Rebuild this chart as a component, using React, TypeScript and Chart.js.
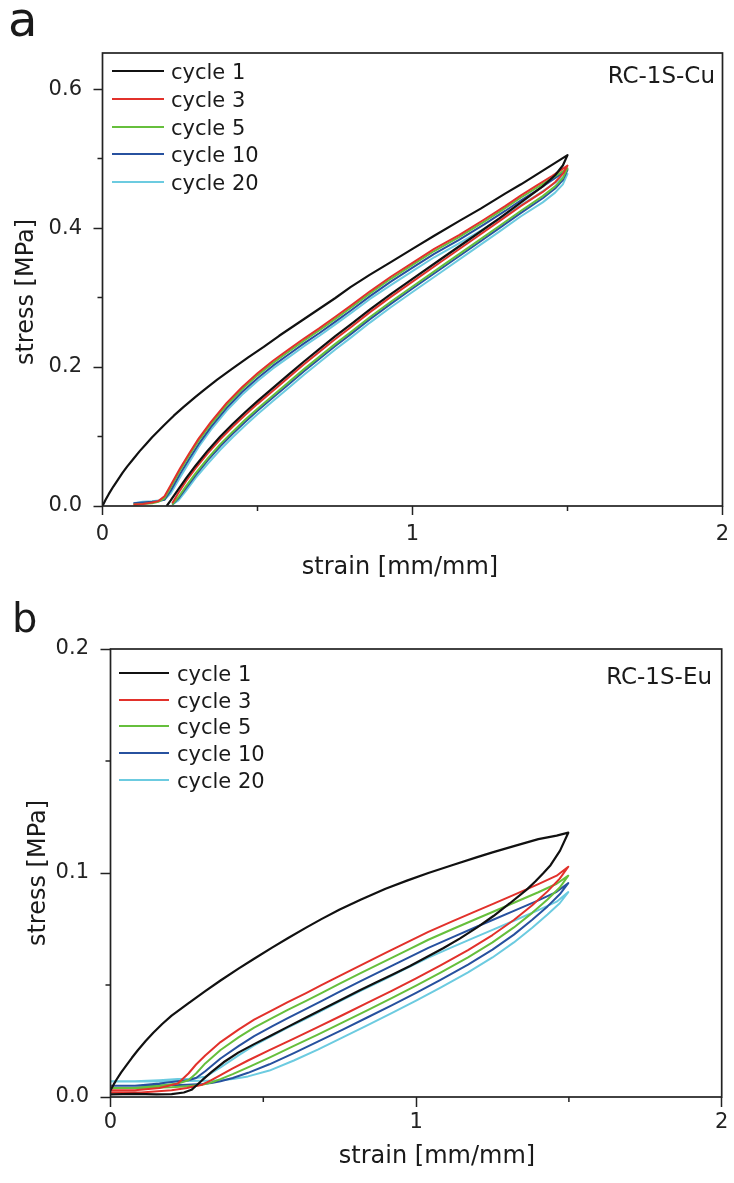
import React, { useEffect, useRef } from 'react';
import { Chart, registerables } from 'chart.js';

Chart.register(...registerables);

const SANS = '"DejaVu Sans", "Liberation Sans", sans-serif';

// ---------- shared labels ----------
const CYCLE_LABELS = ['cycle 1', 'cycle 3', 'cycle 5', 'cycle 10', 'cycle 20'];
const CYCLE_COLORS = ['#111111', '#e2312b', '#66bf3c', '#27519f', '#6ccbe0'];

// ---------- panel a (RC-1S-Cu) ----------
const A_X_TICKS = [0, 1, 2];
const A_X_MINOR = [0.5, 1.5];
const A_Y_TICKS = [0, 0.2, 0.4, 0.6];
const A_Y_MINOR = [0.1, 0.3, 0.5];

const A_C1_LOAD_STRAIN = [0, 0.01, 0.02, 0.035, 0.05, 0.065, 0.08, 0.1, 0.12, 0.14, 0.16, 0.18, 0.2, 0.23, 0.26, 0.3, 0.33, 0.37, 0.42, 0.47, 0.52, 0.57, 0.63, 0.69, 0.75, 0.8, 0.863, 0.93, 1.0, 1.07, 1.15, 1.22, 1.3, 1.35, 1.4, 1.45, 1.5];
const A_C1_LOAD_STRESS = [0, 0.009, 0.017, 0.028, 0.038, 0.048, 0.057, 0.068, 0.079, 0.089, 0.099, 0.108, 0.117, 0.13, 0.142, 0.157, 0.168, 0.182, 0.198, 0.214, 0.229, 0.245, 0.263, 0.281, 0.299, 0.315, 0.333, 0.351, 0.37, 0.389, 0.41, 0.428, 0.45, 0.463, 0.477, 0.491, 0.505];
const A_C1_UNLOAD_STRAIN = [1.485, 1.46, 1.42, 1.35, 1.28, 1.2, 1.1, 1.0, 0.93, 0.863, 0.8, 0.75, 0.7, 0.65, 0.6, 0.55, 0.5, 0.46, 0.42, 0.38, 0.34, 0.3, 0.27, 0.24, 0.22, 0.207];
const A_C1_UNLOAD_STRESS = [0.49, 0.476, 0.46, 0.437, 0.414, 0.389, 0.358, 0.327, 0.305, 0.283, 0.261, 0.244, 0.226, 0.208, 0.189, 0.17, 0.151, 0.135, 0.118, 0.1, 0.08, 0.058, 0.04, 0.021, 0.008, 0];

const A_LOAD_STRAIN = [0.1, 0.13, 0.16, 0.18, 0.2, 0.22, 0.25, 0.28, 0.31, 0.35, 0.4, 0.45, 0.5, 0.55, 0.6, 0.65, 0.7, 0.75, 0.8, 0.863, 0.93, 1.0, 1.07, 1.15, 1.23, 1.3, 1.35, 1.4, 1.45, 1.5];
const A_C3_LOAD = [0.002, 0.003, 0.005, 0.007, 0.014, 0.03, 0.054, 0.076, 0.097, 0.121, 0.148, 0.171, 0.191, 0.209, 0.225, 0.241, 0.256, 0.272, 0.288, 0.309, 0.33, 0.35, 0.37, 0.39, 0.412, 0.432, 0.447, 0.461, 0.475, 0.49];
const A_C5_LOAD = [0.002, 0.003, 0.004, 0.006, 0.011, 0.027, 0.051, 0.073, 0.094, 0.118, 0.145, 0.168, 0.188, 0.206, 0.222, 0.238, 0.253, 0.269, 0.285, 0.306, 0.327, 0.347, 0.367, 0.387, 0.409, 0.429, 0.444, 0.458, 0.472, 0.486];
const A_C10_LOAD = [0.004, 0.005, 0.006, 0.007, 0.009, 0.022, 0.046, 0.068, 0.089, 0.114, 0.141, 0.164, 0.184, 0.202, 0.218, 0.234, 0.249, 0.265, 0.281, 0.302, 0.323, 0.343, 0.363, 0.383, 0.405, 0.425, 0.44, 0.454, 0.469, 0.484];
const A_C20_LOAD = [0.004, 0.006, 0.007, 0.008, 0.009, 0.018, 0.041, 0.063, 0.085, 0.11, 0.137, 0.16, 0.18, 0.198, 0.214, 0.23, 0.245, 0.261, 0.277, 0.298, 0.318, 0.338, 0.358, 0.378, 0.399, 0.419, 0.433, 0.447, 0.462, 0.478];

const A_UNLOAD_STRAIN = [1.485, 1.46, 1.42, 1.35, 1.28, 1.2, 1.1, 1.0, 0.93, 0.863, 0.8, 0.75, 0.7, 0.65, 0.6, 0.55, 0.5, 0.46, 0.42, 0.38, 0.34, 0.3, 0.27, 0.245, 0.225];
const A_C3_UNLOAD = [0.478, 0.466, 0.452, 0.432, 0.41, 0.385, 0.354, 0.323, 0.301, 0.279, 0.257, 0.24, 0.222, 0.204, 0.185, 0.166, 0.147, 0.131, 0.114, 0.096, 0.076, 0.054, 0.036, 0.019, 0.004];
const A_C5_UNLOAD = [0.472, 0.46, 0.446, 0.425, 0.403, 0.378, 0.347, 0.316, 0.294, 0.272, 0.25, 0.233, 0.215, 0.197, 0.178, 0.159, 0.14, 0.124, 0.107, 0.089, 0.069, 0.047, 0.029, 0.013, 0.002];
const A_C10_UNLOAD = [0.469, 0.457, 0.443, 0.422, 0.4, 0.375, 0.344, 0.313, 0.291, 0.269, 0.247, 0.23, 0.212, 0.194, 0.175, 0.156, 0.137, 0.121, 0.104, 0.086, 0.066, 0.044, 0.026, 0.011, 0.002];
const A_C20_UNLOAD = [0.463, 0.451, 0.437, 0.417, 0.395, 0.37, 0.339, 0.308, 0.286, 0.264, 0.242, 0.225, 0.207, 0.189, 0.17, 0.151, 0.132, 0.116, 0.099, 0.081, 0.061, 0.04, 0.022, 0.008, 0.002];

// ---------- panel b (RC-1S-Eu) ----------
const B_X_TICKS = [0, 1, 2];
const B_X_MINOR = [0.5, 1.5];
const B_Y_TICKS = [0, 0.1, 0.2];
const B_Y_MINOR = [0.05, 0.15];

const B_C1_LOAD_STRAIN = [0, 0.01, 0.02, 0.035, 0.05, 0.07, 0.09, 0.115, 0.14, 0.17, 0.2, 0.25, 0.31, 0.36, 0.42, 0.47, 0.53, 0.58, 0.64, 0.69, 0.75, 0.82, 0.9, 0.97, 1.04, 1.12, 1.2, 1.25, 1.32, 1.4, 1.46, 1.498];
const B_C1_LOAD_STRESS = [0.003, 0.0055, 0.0078, 0.011, 0.0138, 0.0175, 0.021, 0.025, 0.0287, 0.0327, 0.0363, 0.0414, 0.0473, 0.052, 0.0574, 0.0617, 0.0668, 0.0709, 0.0756, 0.0794, 0.0837, 0.0882, 0.093, 0.0966, 0.1, 0.1036, 0.1071, 0.1092, 0.112, 0.1151, 0.1167, 0.118];
const B_C1_UNLOAD_STRAIN = [1.471, 1.44, 1.416, 1.39, 1.362, 1.307, 1.253, 1.2, 1.144, 1.09, 1.035, 0.98, 0.925, 0.87, 0.816, 0.745, 0.69, 0.64, 0.58, 0.527, 0.47, 0.418, 0.37, 0.331, 0.3, 0.28, 0.265, 0.24, 0.2, 0.15, 0.08, 0];
const B_C1_UNLOAD_STRESS = [0.11, 0.1035, 0.0999, 0.0962, 0.0926, 0.0865, 0.0808, 0.0757, 0.0708, 0.0665, 0.0625, 0.0585, 0.0548, 0.0512, 0.0477, 0.0427, 0.039, 0.0355, 0.0313, 0.0276, 0.0236, 0.0198, 0.0155, 0.0112, 0.0075, 0.005, 0.0032, 0.002, 0.0013, 0.0012, 0.0014, 0.0012];

const B_LOAD_STRAIN = [0, 0.08, 0.16, 0.22, 0.255, 0.28, 0.31, 0.36, 0.42, 0.47, 0.53, 0.58, 0.64, 0.69, 0.75, 0.82, 0.9, 0.97, 1.04, 1.12, 1.2, 1.25, 1.32, 1.4, 1.46, 1.498];
const B_C3_LOAD = [0.003, 0.003, 0.004, 0.006, 0.0105, 0.0145, 0.0185, 0.0245, 0.0302, 0.0345, 0.0388, 0.0424, 0.0464, 0.0499, 0.0541, 0.0589, 0.0643, 0.069, 0.0737, 0.0785, 0.0832, 0.0861, 0.0902, 0.095, 0.0988, 0.1028];
const B_C5_LOAD = [0.004, 0.004, 0.005, 0.006, 0.0075, 0.0105, 0.015, 0.021, 0.0267, 0.031, 0.0353, 0.0389, 0.0429, 0.0464, 0.0506, 0.0554, 0.0608, 0.0655, 0.0702, 0.075, 0.0797, 0.0826, 0.0867, 0.0914, 0.0952, 0.0988];
const B_C10_LOAD = [0.005, 0.005, 0.006, 0.007, 0.0075, 0.0085, 0.0115, 0.0172, 0.0228, 0.0272, 0.0316, 0.0352, 0.0393, 0.0428, 0.047, 0.0518, 0.0572, 0.0619, 0.0666, 0.0714, 0.0761, 0.079, 0.0831, 0.0878, 0.0916, 0.0955];
const B_C20_LOAD = [0.007, 0.007, 0.0075, 0.008, 0.008, 0.0085, 0.009, 0.0132, 0.0187, 0.023, 0.0274, 0.031, 0.035, 0.0385, 0.0427, 0.0475, 0.0528, 0.0575, 0.0622, 0.067, 0.0717, 0.0746, 0.0787, 0.0834, 0.0872, 0.0915];

const B_UNLOAD_STRAIN = [1.47, 1.43, 1.38, 1.32, 1.25, 1.17, 1.08, 1.0, 0.92, 0.84, 0.76, 0.68, 0.6, 0.52, 0.45, 0.4, 0.36, 0.33, 0.3, 0.25, 0.2, 0.1, 0];
const B_C3_UNLOAD = [0.0975, 0.0918, 0.0856, 0.079, 0.0723, 0.0656, 0.0588, 0.053, 0.0474, 0.042, 0.0366, 0.0313, 0.0261, 0.0209, 0.0163, 0.0128, 0.0098, 0.0075, 0.0055, 0.004, 0.003, 0.002, 0.002];
const B_C5_UNLOAD = [0.0935, 0.0882, 0.0822, 0.0757, 0.069, 0.0623, 0.0555, 0.0497, 0.0441, 0.0387, 0.0333, 0.028, 0.0228, 0.0176, 0.0132, 0.0102, 0.008, 0.0065, 0.0055, 0.0048, 0.0043, 0.004, 0.004];
const B_C10_UNLOAD = [0.0905, 0.0851, 0.0791, 0.0725, 0.0658, 0.0591, 0.0523, 0.0465, 0.0409, 0.0355, 0.0301, 0.0248, 0.0196, 0.0146, 0.0108, 0.0085, 0.007, 0.0062, 0.0058, 0.0055, 0.0052, 0.005, 0.005];
const B_C20_UNLOAD = [0.0865, 0.0815, 0.0756, 0.069, 0.0623, 0.0556, 0.0488, 0.043, 0.0374, 0.032, 0.0266, 0.0213, 0.0163, 0.0118, 0.0092, 0.008, 0.0075, 0.0073, 0.0072, 0.0071, 0.007, 0.0069, 0.0069];

// ---------- helpers ----------
type Pt = { x: number; y: number };
const pts = (xs: number[], ys: number[]): Pt[] => xs.map((x, i) => ({ x, y: ys[i] }));
const loop = (lx: number[], ly: number[], ux: number[], uy: number[]): Pt[] => [...pts(lx, ly), ...pts(ux, uy)];

const A_SERIES = [
  loop(A_C1_LOAD_STRAIN, A_C1_LOAD_STRESS, A_C1_UNLOAD_STRAIN, A_C1_UNLOAD_STRESS),
  loop(A_LOAD_STRAIN, A_C3_LOAD, A_UNLOAD_STRAIN, A_C3_UNLOAD),
  loop(A_LOAD_STRAIN, A_C5_LOAD, A_UNLOAD_STRAIN, A_C5_UNLOAD),
  loop(A_LOAD_STRAIN, A_C10_LOAD, A_UNLOAD_STRAIN, A_C10_UNLOAD),
  loop(A_LOAD_STRAIN, A_C20_LOAD, A_UNLOAD_STRAIN, A_C20_UNLOAD),
];
const B_SERIES = [
  loop(B_C1_LOAD_STRAIN, B_C1_LOAD_STRESS, B_C1_UNLOAD_STRAIN, B_C1_UNLOAD_STRESS),
  loop(B_LOAD_STRAIN, B_C3_LOAD, B_UNLOAD_STRAIN, B_C3_UNLOAD),
  loop(B_LOAD_STRAIN, B_C5_LOAD, B_UNLOAD_STRAIN, B_C5_UNLOAD),
  loop(B_LOAD_STRAIN, B_C10_LOAD, B_UNLOAD_STRAIN, B_C10_UNLOAD),
  loop(B_LOAD_STRAIN, B_C20_LOAD, B_UNLOAD_STRAIN, B_C20_UNLOAD),
];

// ---------- layout specs (positions only) ----------
const PANELS = [
  {
    key: 'a', top: 0, w: 734, h: 585,
    ca: { left: 102.5, right: 722.5, top: 53, bottom: 506 },
    yMax: 0.652, xTicks: A_X_TICKS, xMinor: A_X_MINOR, yTicks: A_Y_TICKS, yMinor: A_Y_MINOR,
    series: A_SERIES, tickLen: 9, xPad: 7,
    letter: { text: 'a', size: 48, x: 8, y: 36 },
    tag: { text: 'RC-1S-Cu', x: 715, y: 83 },
    legend: { x1: 112, x2: 164, tx: 171, rows: [71, 99, 127, 154, 182] },
    xTitle: { text: 'strain [mm/mm]', x: 400, y: 574 },
    yTitle: { text: 'stress [MPa]', x: 33, y: 292 },
  },
  {
    key: 'b', top: 585, w: 734, h: 598,
    ca: { left: 110.5, right: 721.7, top: 64, bottom: 512 },
    yMax: 0.2, xTicks: B_X_TICKS, xMinor: B_X_MINOR, yTicks: B_Y_TICKS, yMinor: B_Y_MINOR,
    series: B_SERIES, tickLen: 10, xPad: 3,
    letter: { text: 'b', size: 40, x: 12, y: 47 },
    tag: { text: 'RC-1S-Eu', x: 712, y: 99 },
    legend: { x1: 119, x2: 169, tx: 177, rows: [88, 115, 141, 168, 195] },
    xTitle: { text: 'strain [mm/mm]', x: 437, y: 578 },
    yTitle: { text: 'stress [MPa]', x: 45, y: 288 },
  },
];

type Spec = (typeof PANELS)[number];

function Panel({ spec }: { spec: Spec }) {
  const ref = useRef<HTMLCanvasElement>(null);

  useEffect(() => {
    const canvas = ref.current;
    if (!canvas) return;

    const decor = {
      id: 'decor' + spec.key,
      afterDraw(chart: any) {
        const { ctx, chartArea: ca } = chart;
        const xs = chart.scales.x;
        const ys = chart.scales.y;
        ctx.save();
        // frame
        ctx.strokeStyle = '#222';
        ctx.lineWidth = 1.7;
        ctx.strokeRect(ca.left, ca.top, ca.right - ca.left, ca.bottom - ca.top);
        // minor ticks
        ctx.lineWidth = 1.5;
        ctx.beginPath();
        spec.xMinor.forEach((v) => {
          const p = xs.getPixelForValue(v);
          ctx.moveTo(p, ca.bottom);
          ctx.lineTo(p, ca.bottom + 5);
        });
        spec.yMinor.forEach((v) => {
          const p = ys.getPixelForValue(v);
          ctx.moveTo(ca.left, p);
          ctx.lineTo(ca.left - 5, p);
        });
        ctx.stroke();
        // legend
        ctx.font = `21px ${SANS}`;
        ctx.textAlign = 'left';
        ctx.textBaseline = 'alphabetic';
        ctx.fillStyle = '#1a1a1a';
        chart.data.datasets.forEach((ds: any, i: number) => {
          const y = spec.legend.rows[i];
          ctx.strokeStyle = ds.borderColor;
          ctx.lineWidth = 2;
          ctx.beginPath();
          ctx.moveTo(spec.legend.x1, y);
          ctx.lineTo(spec.legend.x2, y);
          ctx.stroke();
          ctx.fillText(ds.label, spec.legend.tx, y + 8);
        });
        // sample tag
        ctx.font = `23px ${SANS}`;
        ctx.textAlign = 'right';
        ctx.fillText(spec.tag.text, spec.tag.x, spec.tag.y);
        // panel letter
        ctx.font = `${spec.letter.size}px ${SANS}`;
        ctx.textAlign = 'left';
        ctx.fillText(spec.letter.text, spec.letter.x, spec.letter.y);
        // axis titles
        ctx.font = `24px ${SANS}`;
        ctx.textAlign = 'center';
        ctx.fillText(spec.xTitle.text, spec.xTitle.x, spec.xTitle.y);
        ctx.translate(spec.yTitle.x, spec.yTitle.y);
        ctx.rotate(-Math.PI / 2);
        ctx.fillText(spec.yTitle.text, 0, 0);
        ctx.restore();
      },
    };

    const gridOpts = {
      display: true,
      drawOnChartArea: false,
      drawTicks: true,
      tickLength: spec.tickLen,
      tickColor: '#222',
      tickWidth: 1.5,
    };

    const chart = new Chart(canvas, {
      type: 'scatter',
      data: {
        datasets: spec.series.map((s, i) => ({
          label: CYCLE_LABELS[i],
          data: s,
          borderColor: CYCLE_COLORS[i],
          backgroundColor: CYCLE_COLORS[i],
          showLine: true,
          pointRadius: 0,
          borderWidth: i === 0 ? 2.2 : 2,
          borderJoinStyle: 'round',
          tension: 0,
          fill: false,
        })),
      },
      options: {
        animation: false,
        responsive: false,
        devicePixelRatio: 1,
        events: [],
        layout: {
          padding: { top: spec.ca.top, right: spec.w - spec.ca.right, left: 0, bottom: 0 },
        },
        plugins: {
          legend: { display: false },
          tooltip: { enabled: false },
        },
        scales: {
          x: {
            type: 'linear',
            min: 0,
            max: 2,
            afterBuildTicks: (s: any) => {
              s.ticks = spec.xTicks.map((v) => ({ value: v }));
            },
            afterFit: (s: any) => {
              s.height = spec.h - spec.ca.bottom;
              s.paddingLeft = 0;
              s.paddingRight = 0;
            },
            grid: gridOpts,
            border: { display: false },
            ticks: {
              font: { family: SANS, size: 21 },
              color: '#222',
              padding: spec.xPad,
              maxRotation: 0,
              callback: (v: any) => String(Number(v)),
            },
          },
          y: {
            type: 'linear',
            min: 0,
            max: spec.yMax,
            afterBuildTicks: (s: any) => {
              s.ticks = spec.yTicks.map((v) => ({ value: v }));
            },
            afterFit: (s: any) => {
              s.width = spec.ca.left;
              s.paddingTop = 0;
              s.paddingBottom = 0;
            },
            grid: gridOpts,
            border: { display: false },
            ticks: {
              font: { family: SANS, size: 21 },
              color: '#222',
              padding: 11.5,
              callback: (v: any) => Number(v).toFixed(1),
            },
          },
        },
      } as any,
      plugins: [decor],
    });

    return () => chart.destroy();
  }, [spec]);

  return (
    <canvas
      ref={ref}
      width={spec.w}
      height={spec.h}
      style={{ position: 'absolute', left: 0, top: spec.top, width: spec.w, height: spec.h, display: 'block' }}
    />
  );
}

export default function App() {
  return (
    <div style={{ position: 'absolute', left: 0, top: 0, width: 734, height: 1183, background: '#fff' }}>
      {PANELS.map((p) => (
        <Panel key={p.key} spec={p} />
      ))}
    </div>
  );
}
